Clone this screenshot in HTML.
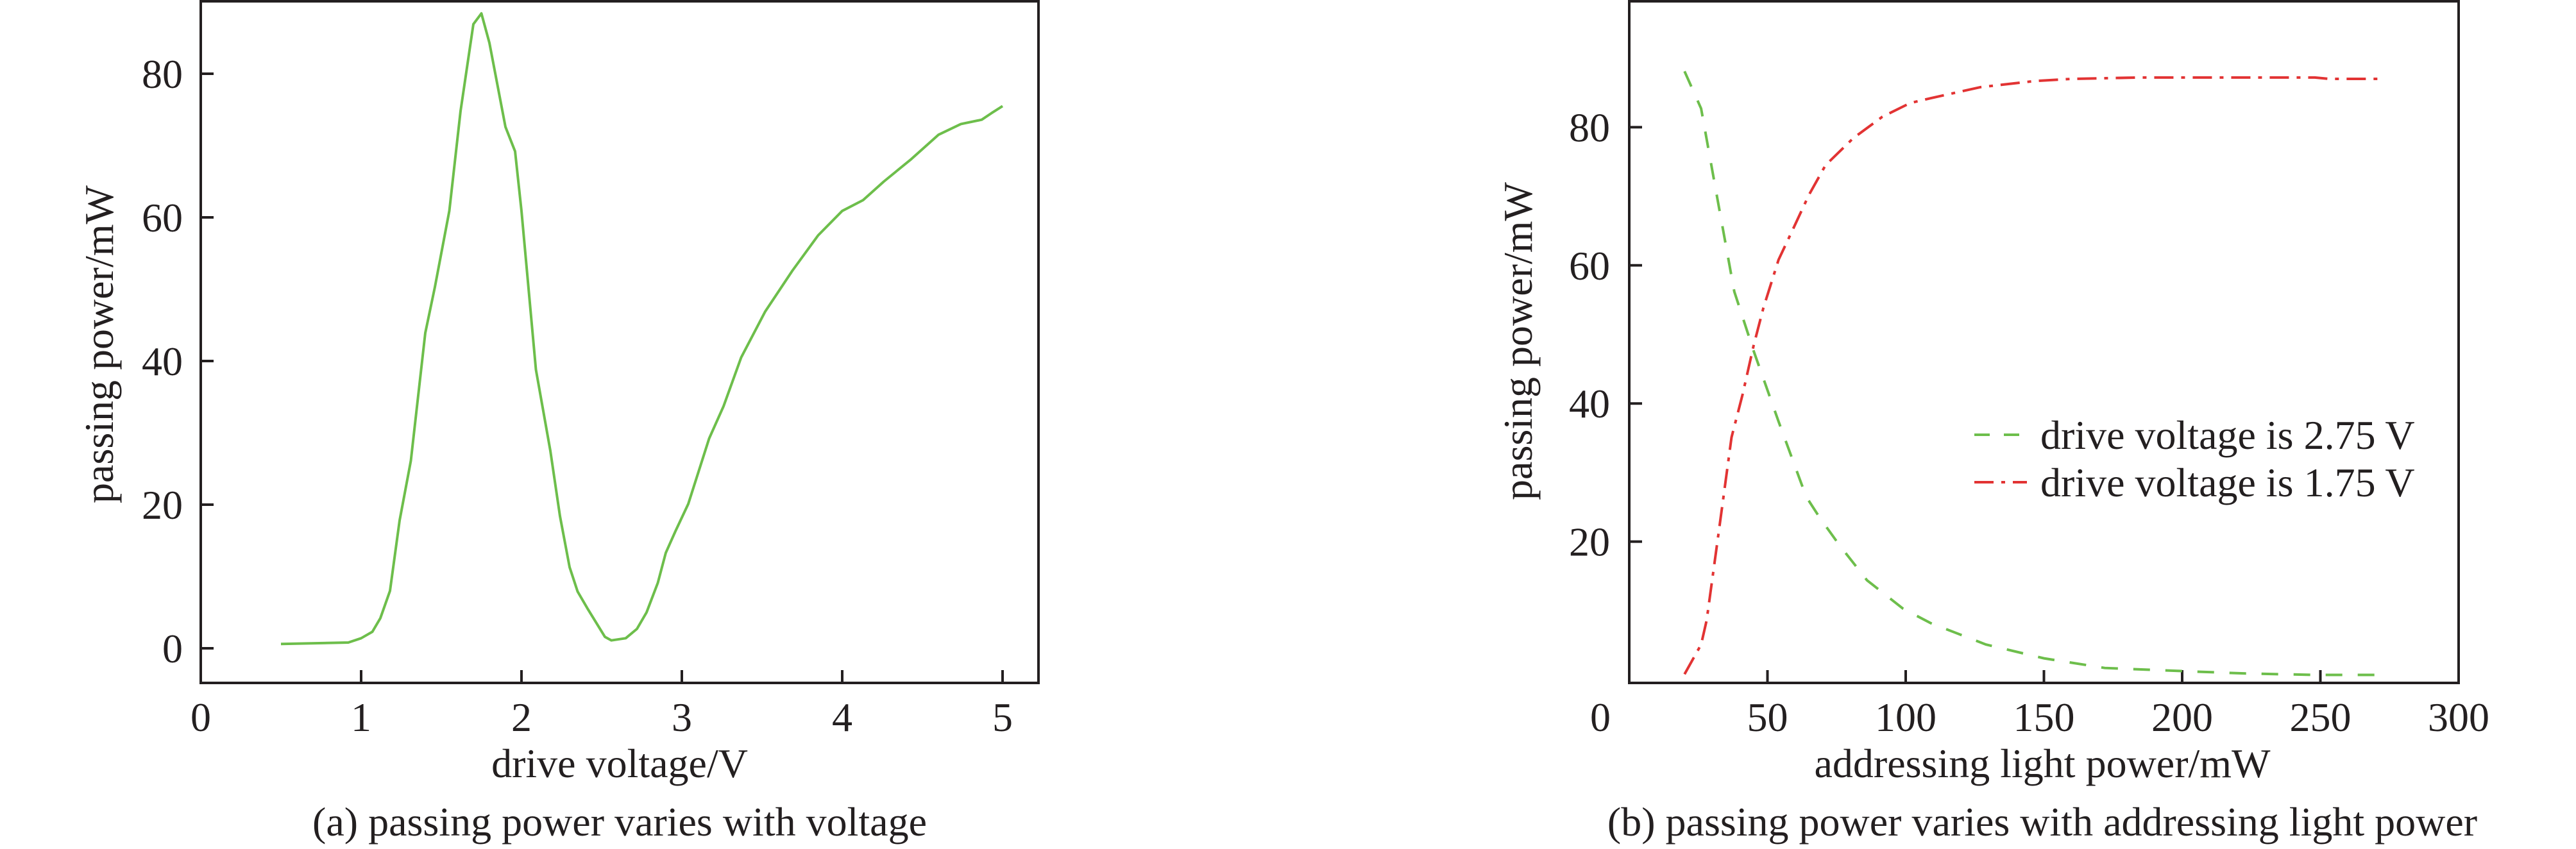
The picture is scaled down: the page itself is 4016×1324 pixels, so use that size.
<!DOCTYPE html>
<html><head><meta charset="utf-8"><style>
html,body{margin:0;padding:0;background:#fff;}
svg{display:block;}
text{font-family:"Liberation Serif",serif;fill:#231f20;}
</style></head><body>
<svg id="fig" width="4016" height="1324" viewBox="0 0 4016 1324" xmlns="http://www.w3.org/2000/svg">
<g id="chartA"></g>
<g id="chartB"></g>
</svg>
<script>
// Chart A data
const aVoltage = [0.5,0.92,1.0,1.07,1.12,1.18,1.24,1.31,1.4,1.46,1.55,1.62,1.7,1.75,1.8,1.9,1.96,2.0,2.09,2.18,2.24,2.3,2.35,2.41,2.52,2.56,2.65,2.72,2.78,2.85,2.9,2.96,3.04,3.17,3.26,3.37,3.52,3.69,3.85,4.0,4.13,4.26,4.43,4.6,4.74,4.87,4.93,5.0];
const aPower = [0.6,0.8,1.4,2.3,4.2,8,17.8,26.1,43.9,50.3,60.9,74.8,86.9,88.4,84.3,72.6,69.2,60.9,38.8,27.5,18.4,11.3,7.9,5.6,1.6,1.1,1.4,2.7,5,9.1,13.3,16.3,20.1,29.2,33.7,40.5,46.9,52.6,57.5,60.9,62.4,65,68.1,71.5,73,73.6,74.5,75.5];
const aXTicks = [0,1,2,3,4,5];
const aYTicks = [0,20,40,60,80];
// Chart B data
const bX = [20,26,32,38,45,54,64,69,76,86,99,109,129,150,172,200,223,248,272];
const bGreen = [88.1,82.7,69.4,56.2,47.6,37.4,26.5,23.4,19.5,14.4,10.3,8.2,5.1,3.1,1.7,1.25,0.9,0.7,0.7];
const bXRed = [20,26,28,32,37,41,45,48.5,54,58.6,65,71,81,91.5,101.6,109,127,147,160,185,223,248,253,273];
const bRed = [0.8,5.1,8.6,20.3,35.1,41.3,48.4,53.8,60.8,64.7,70.2,74.5,78.4,81.5,83.5,84.2,85.8,86.7,87,87.2,87.2,87.2,87,87];
const bXTicks = [0,50,100,150,200,250,300];
const bYTicks = [20,40,60,80];
const bLegend = ["drive voltage is 2.75 V","drive voltage is 1.75 V"];

const NS="http://www.w3.org/2000/svg";
function mk(parent,tag,attrs,txt){const e=document.createElementNS(NS,tag);for(const k in attrs)e.setAttribute(k,attrs[k]);if(txt!==undefined)e.textContent=txt;parent.appendChild(e);return e;}

// ---- Chart A
const A=document.getElementById('chartA');
const ax=v=>313+v*250, ay=v=>1011-v*11.2;
let fr=mk(A,'rect',{x:313,y:2,width:1306,height:1063,fill:'none',stroke:'#231f20','stroke-width':4});


aXTicks.forEach(t=>{
  let l=mk(A,'line',{x1:ax(t),x2:ax(t),y1:1065,y2:1045,stroke:'#231f20','stroke-width':4});
  
  
  let tx=mk(A,'text',{x:ax(t),y:1140,'font-size':64,'text-anchor':'middle'},String(t));
  
  
});
aYTicks.forEach(t=>{
  let l=mk(A,'line',{x1:313,x2:333,y1:ay(t),y2:ay(t),stroke:'#231f20','stroke-width':4});
  
  
  let tx=mk(A,'text',{x:285,y:ay(t)+22,'font-size':64,'text-anchor':'end'},String(t));
  
  
});
let pa=mk(A,'polyline',{points:aVoltage.map((v,i)=>ax(v)+','+ay(aPower[i])).join(' '),fill:'none',stroke:'#6dbe4b','stroke-width':4,'stroke-linejoin':'round'});


let xla=mk(A,'text',{x:966,y:1212,'font-size':64,'text-anchor':'middle'},'drive voltage/V');


let yla=mk(A,'text',{x:0,y:0,'font-size':64,'text-anchor':'middle',transform:'translate(176,537) rotate(-90)'},'passing power/mW');


let ca=mk(A,'text',{x:966,y:1303,'font-size':64,'text-anchor':'middle'},'(a) passing power varies with voltage');



// ---- Chart B
const B=document.getElementById('chartB');
const bx=v=>2540+v*4.31, by=v=>1060-v*10.77;
let fb=mk(B,'rect',{x:2540,y:2,width:1293,height:1063,fill:'none',stroke:'#231f20','stroke-width':4});


bXTicks.forEach(t=>{
  if(t>0&&t<300){
    let l=mk(B,'line',{x1:bx(t),x2:bx(t),y1:1065,y2:1045,stroke:'#231f20','stroke-width':4});
    
    
  }
  let tx=mk(B,'text',{x:t===0?2495:bx(t),y:1140,'font-size':64,'text-anchor':'middle'},String(t));
  
  
});
bYTicks.forEach(t=>{
  let l=mk(B,'line',{x1:2540,x2:2560,y1:by(t),y2:by(t),stroke:'#231f20','stroke-width':4});
  
  
  let tx=mk(B,'text',{x:2510,y:by(t)+22,'font-size':64,'text-anchor':'end'},String(t));
  
  
});
let pg=mk(B,'polyline',{points:bX.map((v,i)=>bx(v)+','+by(bGreen[i])).join(' '),fill:'none',stroke:'#6dbe4b','stroke-width':4,'stroke-dasharray':'26 24'});


let pr=mk(B,'polyline',{points:bXRed.map((v,i)=>bx(v)+','+by(bRed[i])).join(' '),fill:'none',stroke:'#e23333','stroke-width':4,'stroke-dasharray':'30 12 6 12'});


// legend
let lg1=mk(B,'line',{x1:3078,x2:3160,y1:678,y2:678,stroke:'#6dbe4b','stroke-width':4,'stroke-dasharray':'24 22'});


let lt1=mk(B,'text',{x:3181,y:700,'font-size':64},bLegend[0]);


let lg2=mk(B,'line',{x1:3078,x2:3160,y1:752,y2:752,stroke:'#e23333','stroke-width':4,'stroke-dasharray':'30 12 6 12'});


let lt2=mk(B,'text',{x:3181,y:774,'font-size':64},bLegend[1]);


let xlb=mk(B,'text',{x:3184,y:1212,'font-size':64,'text-anchor':'middle'},'addressing light power/mW');


let ylb=mk(B,'text',{x:0,y:0,'font-size':64,'text-anchor':'middle',transform:'translate(2388,532) rotate(-90)'},'passing power/mW');


let cb=mk(B,'text',{x:3184,y:1303,'font-size':64,'text-anchor':'middle'},'(b) passing power varies with addressing light power');


</script>
</body></html>
